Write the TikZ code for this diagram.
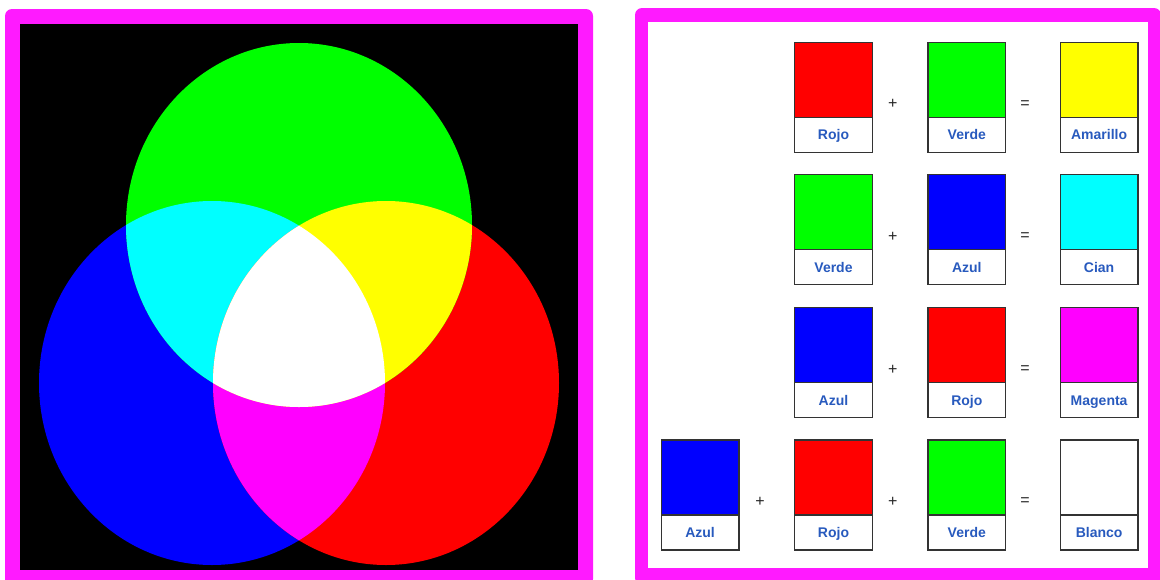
\documentclass[tikz,border=0pt]{standalone}
\usepackage{fontspec}
\setmainfont{Liberation Sans}
\definecolor{mag}{RGB}{255,26,255}
\definecolor{lbl}{RGB}{40,90,190}
\definecolor{pR}{RGB}{255,0,0}
\definecolor{pG}{RGB}{0,255,0}
\definecolor{pB}{RGB}{0,0,255}
\definecolor{pY}{RGB}{255,255,0}
\definecolor{pC}{RGB}{0,255,255}
\definecolor{pM}{RGB}{255,0,255}
\newcommand\swatch[5]{%
  \node[colbox,fill=#4] (#1c) at (#2,#3) {};
  \node[labbox] (#1l) at (#1c.south west) {#5};}
\begin{document}
\begin{tikzpicture}[x=1pt,y=-1pt,
  colbox/.style={draw=black!80,line width=1.3pt,minimum width=77.6pt,minimum height=75pt,inner sep=0pt,outer sep=0pt,anchor=north west},
  labbox/.style={draw=black!80,line width=1.3pt,fill=white,minimum width=77.6pt,minimum height=35pt,text height=10pt,text depth=0pt,inner sep=0pt,outer sep=0pt,anchor=north west,font=\bfseries\fontsize{14}{16}\selectfont,text=lbl},
  opsign/.style={font=\fontsize{16}{18}\selectfont,text=black!85,inner sep=0pt}]
\useasboundingbox (0,0) rectangle (1160,579);
% left panel
\fill[mag,rounded corners=7pt] (5,9) rectangle (593,586);
\fill[black] (20,24) rectangle (578,570);
\fill[pB] (212,383) ellipse [x radius=173pt,y radius=182pt];
\fill[pR] (386,383) ellipse [x radius=173pt,y radius=182pt];
\fill[pG] (299,225) ellipse [x radius=173pt,y radius=182pt];
\begin{scope}
  \clip (212,383) ellipse [x radius=173pt,y radius=182pt];
  \fill[pC] (299,225) ellipse [x radius=173pt,y radius=182pt];
  \fill[pM] (386,383) ellipse [x radius=173pt,y radius=182pt];
\end{scope}
\begin{scope}
  \clip (386,383) ellipse [x radius=173pt,y radius=182pt];
  \fill[pY] (299,225) ellipse [x radius=173pt,y radius=182pt];
\end{scope}
\begin{scope}
  \clip (212,383) ellipse [x radius=173pt,y radius=182pt];
  \clip (386,383) ellipse [x radius=173pt,y radius=182pt];
  \fill[white] (299,225) ellipse [x radius=173pt,y radius=182pt];
\end{scope}
% right panel
\fill[mag,rounded corners=7pt] (635,8) rectangle (1161,585);
\fill[white] (648,22) rectangle (1148,568);
% row 1
\swatch{aa}{794.7}{42.3}{pR}{Rojo}
\swatch{ab}{928}{42.3}{pG}{Verde}
\swatch{ac}{1060.3}{42.3}{pY}{Amarillo}
\node[opsign] (ap1) at (892.7,104.3) {+};
\node[opsign] (aq1) at (1025,104.3) {=};
% row 2
\swatch{ba}{794.7}{174.7}{pG}{Verde}
\swatch{bb}{928}{174.7}{pB}{Azul}
\swatch{bc}{1060.3}{174.7}{pC}{Cian}
\node[opsign] (bp1) at (892.7,236.7) {+};
\node[opsign] (bq1) at (1025,236.7) {=};
% row 3
\swatch{ca}{794.7}{307.7}{pB}{Azul}
\swatch{cb}{928}{307.7}{pR}{Rojo}
\swatch{cc}{1060.3}{307.7}{pM}{Magenta}
\node[opsign] (cp1) at (892.7,369.5) {+};
\node[opsign] (cq1) at (1025,369.5) {=};
% row 4
\swatch{dz}{661.3}{440}{pB}{Azul}
\swatch{da}{794.7}{440}{pR}{Rojo}
\swatch{db}{928}{440}{pG}{Verde}
\swatch{dc}{1060.3}{440}{white}{Blanco}
\node[opsign] (dp0) at (760,501.5) {+};
\node[opsign] (dp1) at (892.7,501.5) {+};
\node[opsign] (dq1) at (1025,501.5) {=};
\end{tikzpicture}
\end{document}
